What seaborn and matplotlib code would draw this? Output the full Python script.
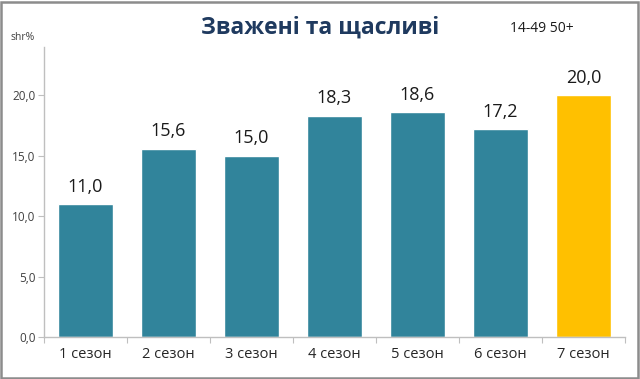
import matplotlib
matplotlib.use("Agg")
import matplotlib.pyplot as plt
import seaborn as sns
import pandas as pd
import numpy as np
from matplotlib.patches import Rectangle

categories = ["1 сезон", "2 сезон", "3 сезон", "4 сезон", "5 сезон", "6 сезон", "7 сезон"]
values = [11.0, 15.6, 15.0, 18.3, 18.6, 17.2, 20.0]
bar_colors = ["#31849B"] * 6 + ["#FFC000"]
y_ticks = [0, 5, 10, 15, 20]
title = "Зважені та щасливі"
subtitle = "14-49 50+"
ylabel = "shr%"

sns.set_style("white")
plt.rcParams["font.family"] = ["Open Sans", "DejaVu Sans"]

df = pd.DataFrame({"season": categories, "share": values})

fig = plt.figure(figsize=(6.4, 3.79), dpi=100)
ax = fig.add_axes([0.06875, 0.110, 0.9078, 0.766])
sns.barplot(data=df, x="season", y="share", hue="season", palette=bar_colors,
            width=0.667, legend=False, ax=ax, saturation=1)

ax.set_ylim(0, 24)
ax.set_xlim(-0.5, len(categories) - 0.5)
ax.set_yticks(y_ticks)
ax.set_yticklabels([f"{v:.1f}".replace(".", ",") for v in y_ticks], fontsize=8.5, color="#404040")
ax.tick_params(axis="y", which="major", length=4, width=0.8, color="#BFBFBF", pad=2, left=True)
ax.set_xticks(range(len(categories)))
ax.set_xticklabels(categories, fontsize=10.5, color="#262626")
ax.tick_params(axis="x", which="major", length=0, pad=7)
ax.set_xticks(np.arange(-0.5, len(categories), 1.0), minor=True)
ax.tick_params(axis="x", which="minor", length=4, width=0.8, color="#BFBFBF", bottom=True)
ax.set_xlabel("")
ax.set_ylabel("")
for s in ["top", "right"]:
    ax.spines[s].set_visible(False)
for s in ["left", "bottom"]:
    ax.spines[s].set_color("#BFBFBF")
    ax.spines[s].set_linewidth(1.0)

for i, v in enumerate(values):
    ax.text(i, v + 0.7, f"{v:.1f}".replace(".", ","), ha="center", va="bottom",
            fontsize=13, color="#1a1a1a")

fig.text(0.5, 0.927, title, ha="center", va="center", fontsize=16.5, fontweight="bold", color="#1F3A5F")
fig.text(0.846, 0.925, subtitle, ha="center", va="center", fontsize=10, color="#1a1a1a")
fig.text(0.035, 0.9, ylabel, ha="center", va="center", fontsize=7.5, color="#404040")

fig.patches.append(Rectangle((0.002, 0.003), 0.995, 0.993, transform=fig.transFigure,
                             fill=False, edgecolor="#8C8C8C", linewidth=1.8))

fig.savefig("out.png", dpi=100)
